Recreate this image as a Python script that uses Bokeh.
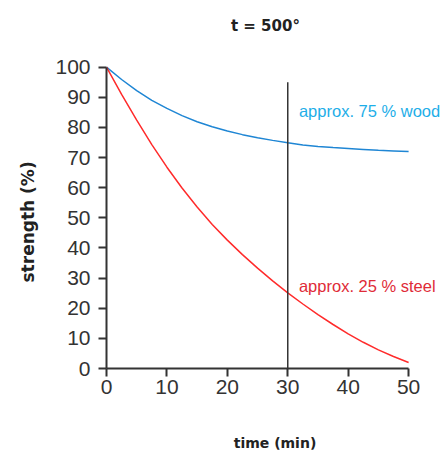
from bokeh.plotting import figure
from bokeh.embed import file_html
from bokeh.resources import INLINE
from bokeh.models import FixedTicker, Label, Title

# time in minutes
time_min = [0, 2.5, 5, 7.5, 10, 12.5, 15, 17.5, 20, 22.5, 25, 27.5, 30,
            32.5, 35, 37.5, 40, 42.5, 45, 47.5, 50]
# remaining strength (%) at t = 500°
wood = [100, 95.9, 92.2, 89.0, 86.3, 83.9, 81.9, 80.2, 78.8, 77.6, 76.6, 75.7, 74.9,
        74.2, 73.7, 73.3, 73.0, 72.7, 72.4, 72.2, 72.0]
steel = [100, 91.0, 82.4, 74.3, 66.8, 59.9, 53.6, 47.8, 42.6, 37.8, 33.3, 29.1, 25.1,
         21.4, 17.9, 14.6, 11.5, 8.7, 6.2, 4.0, 2.0]
marker_time = 30
marker_top = 95
x_ticks = [0, 10, 20, 30, 40, 50]
y_ticks = [0, 10, 20, 30, 40, 50, 60, 70, 80, 90, 100]
title_text = "t = 500°"
x_label = "time (min)"
y_label = "strength (%)"
wood_note = "approx. 75 % wood"
steel_note = "approx. 25 % steel"

TICK_FONT = "Liberation Sans"
BOLD_FONT = "DejaVu Sans"
AX = "#333333"

W, H = 443, 453
LEFT, BOTTOM = 105, 83
px_per_min = 303 / 50.0
px_per_pct = 303 / 100.0
x_end = (W - LEFT) / px_per_min
y_end = (H - BOTTOM) / px_per_pct

p = figure(width=W, height=H, x_range=(0, x_end), y_range=(0, y_end),
           output_backend="svg", toolbar_location=None,
           min_border_left=LEFT, min_border_right=0, min_border_top=0,
           min_border_bottom=BOTTOM)
p.outline_line_color = None
p.grid.visible = False
p.background_fill_color = "white"
p.border_fill_color = "white"

for ax in (p.xaxis[0], p.yaxis[0]):
    ax.axis_line_color = AX
    ax.axis_line_width = 2
    ax.major_tick_line_color = AX
    ax.major_tick_line_width = 2
    ax.major_tick_out = 8
    ax.major_tick_in = 0
    ax.minor_tick_line_color = None
    ax.major_label_text_font = TICK_FONT
    ax.major_label_text_font_size = "21px"
    ax.major_label_text_color = AX
    ax.axis_label_text_font = BOLD_FONT
    ax.axis_label_text_font_size = "14px"
    ax.axis_label_text_font_style = "bold"
    ax.axis_label_text_color = "#222222"

p.xaxis.ticker = FixedTicker(ticks=x_ticks)
p.yaxis.ticker = FixedTicker(ticks=y_ticks)
p.xaxis.bounds = (0, 50)
p.yaxis.bounds = (0, 100)
p.xaxis.axis_label = x_label
p.xaxis.major_label_standoff = 3
p.yaxis.major_label_standoff = 8
p.xaxis.axis_label_standoff = 38

# y-axis title, centred on the 0-100 part of the axis
ytitle = Title(text=y_label, align="left", offset=86, text_font=BOLD_FONT,
               text_font_size="17px", text_font_style="bold", text_color="#222222",
               standoff=30)
p.add_layout(ytitle, "left")

p.line(time_min, wood, line_color="#1f86d4", line_width=1.5)
p.line(time_min, steel, line_color="#ff2b2b", line_width=1.5)
p.segment(x0=[marker_time], y0=[0], x1=[marker_time], y1=[marker_top],
          line_color="#333333", line_width=1.5)

# chart title, placed above the plotted area
p.add_layout(Label(x=26.3, y=113.5, text=title_text, text_font=BOLD_FONT,
                   text_font_size="15px", text_font_style="bold", text_color="#222222",
                   text_align="center", text_baseline="middle"))

p.add_layout(Label(x=marker_time + 1.85, y=85.3, text=wood_note, text_font=TICK_FONT,
                   text_font_size="16.5px", text_color="#1eaee8", text_baseline="middle"))
p.add_layout(Label(x=marker_time + 1.85, y=27.5, text=steel_note, text_font=TICK_FONT,
                   text_font_size="16.5px", text_color="#e02b38", text_baseline="middle"))

open("out.html", "w").write(file_html(p, INLINE))
